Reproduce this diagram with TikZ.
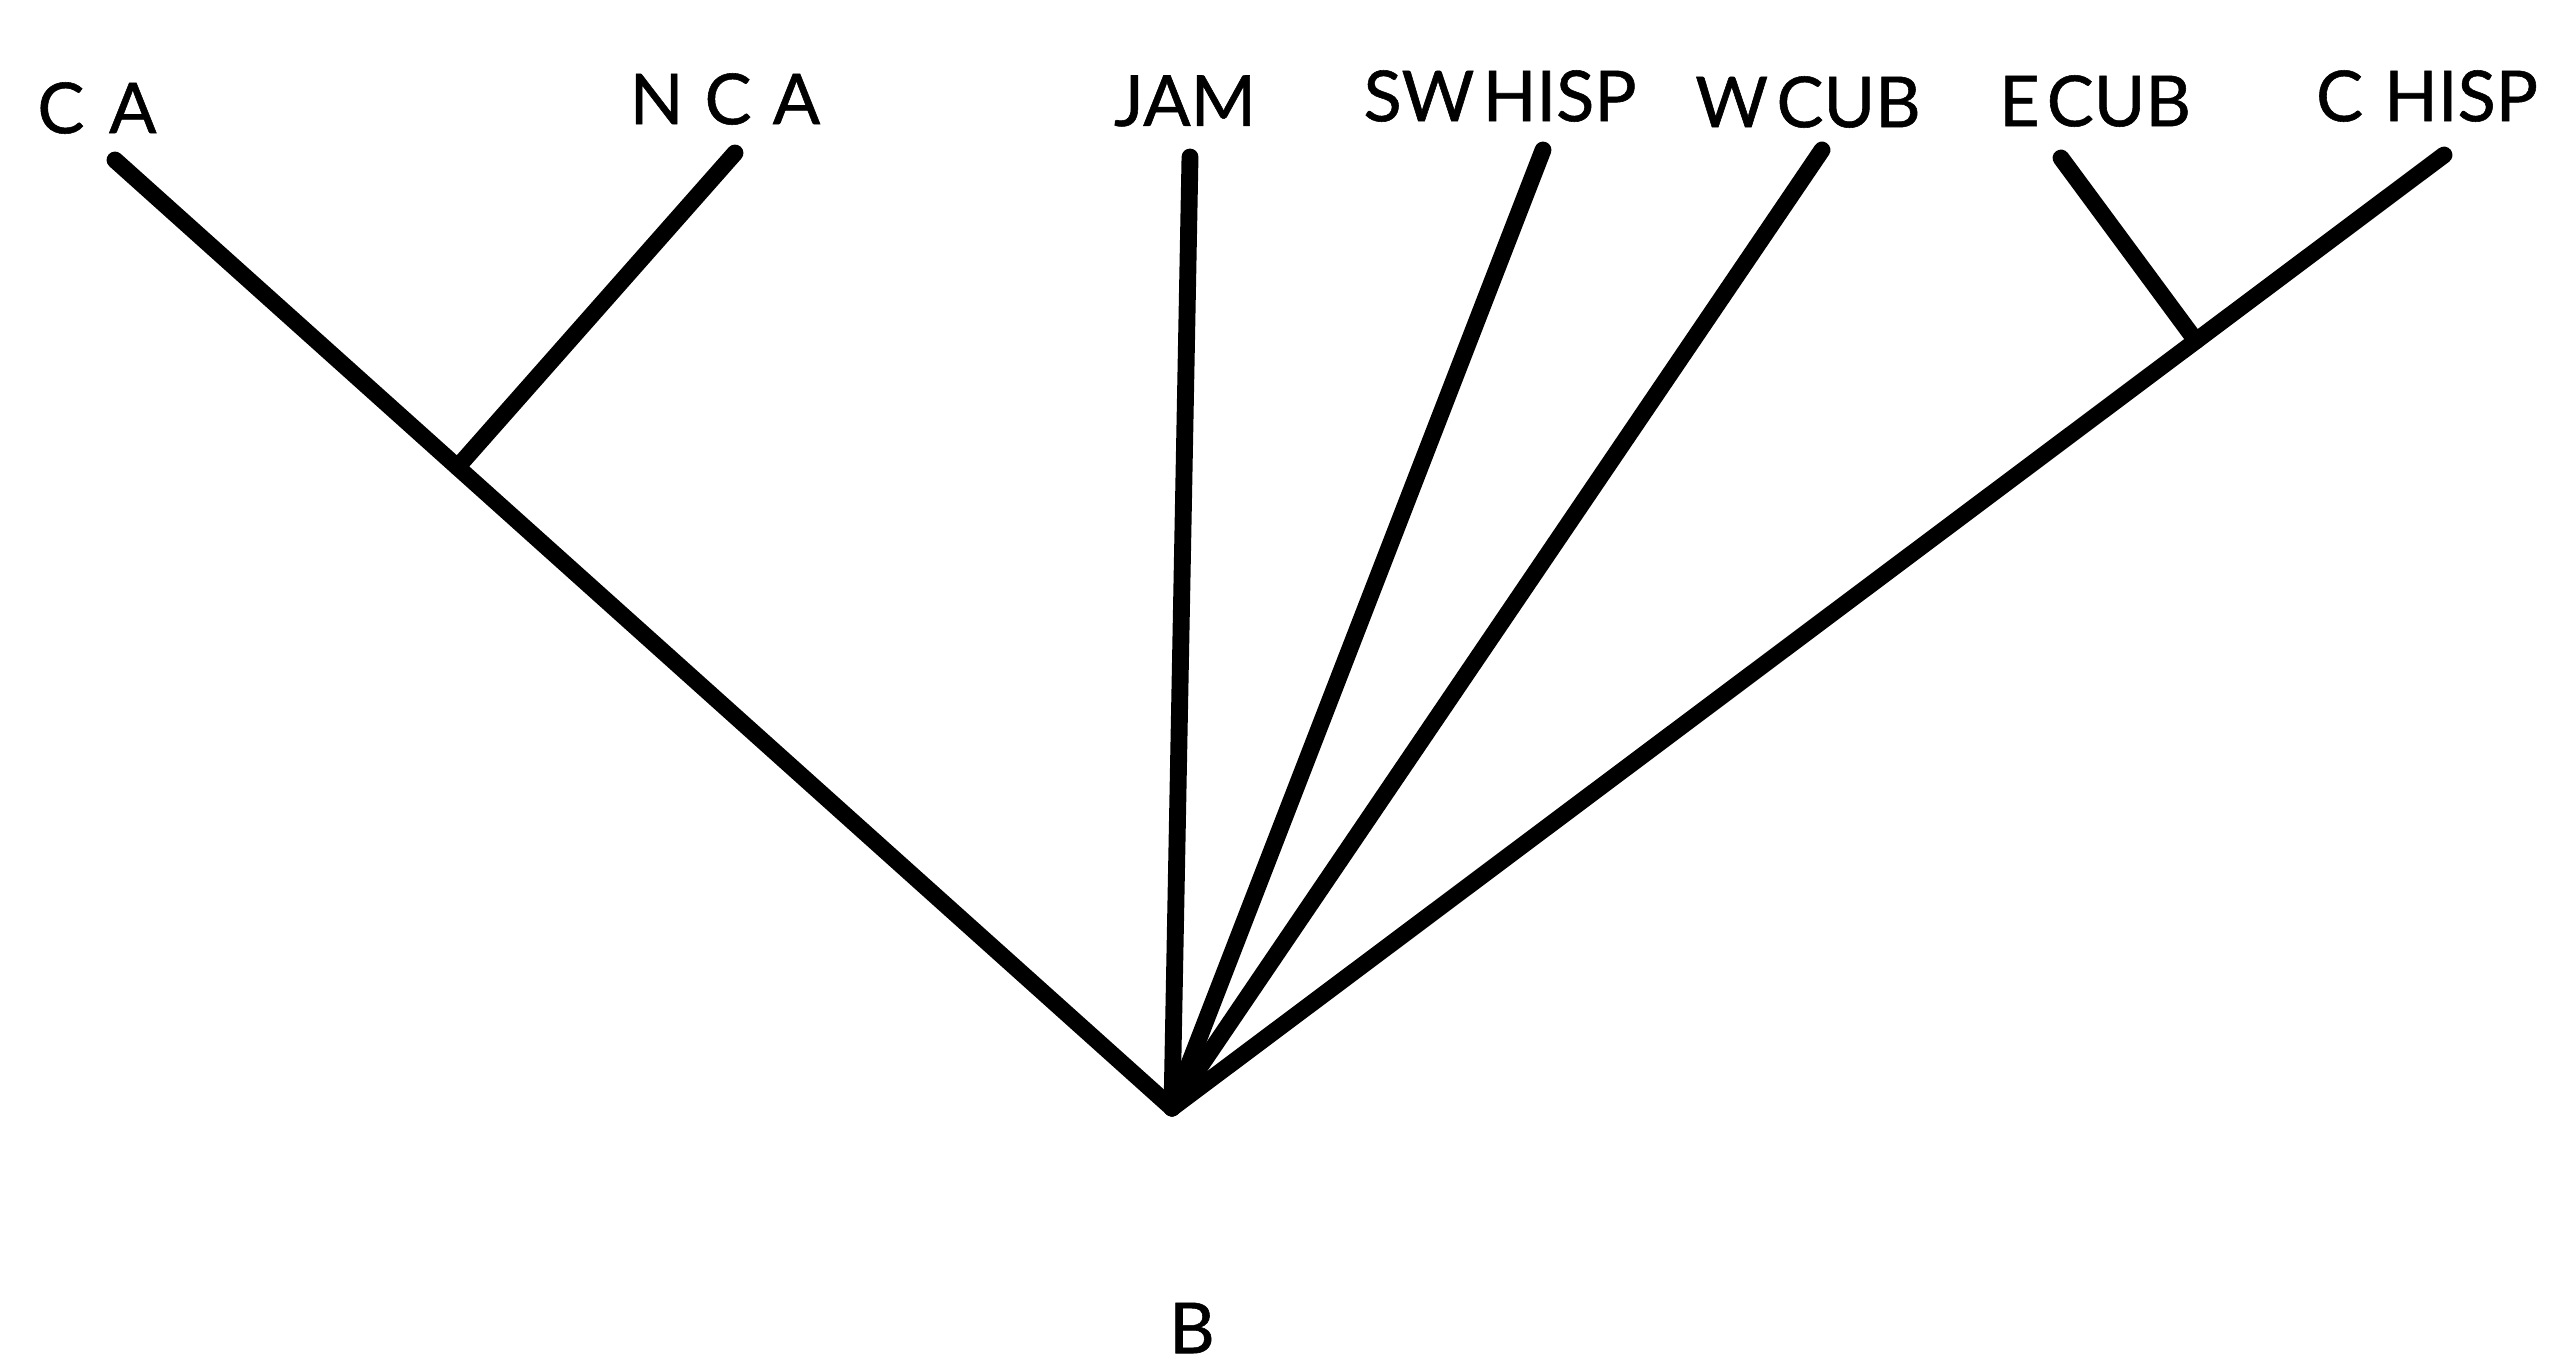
\documentclass[tikz,border=0pt]{standalone}
\usepackage{fontspec}
\setmainfont{Lato}[FakeBold=0.8]
\usetikzlibrary{calc}
\begin{document}
\begin{tikzpicture}[x=0.01cm,y=-0.01cm,
  branch/.style={line width=4.8pt,line cap=round,line join=round,black},
  taxon/.style={font=\fontsize{20}{22}\selectfont,inner sep=0pt,anchor=center}]
\useasboundingbox (0,0) rectangle (2551,1363);

% root of the tree
\coordinate (root) at (1172,1108);

% tips of the branches
\coordinate (tCA)    at (115,160);
\coordinate (tNCA)   at (735,153);
\coordinate (tJAM)   at (1190,157);
\coordinate (tSWH)   at (1543,150);
\coordinate (tWCUB)  at (1822,150);
\coordinate (tECUB)  at (2061,158);
\coordinate (tCHISP) at (2444,155);

% internal branching points
\coordinate (jNCA)  at ($(tCA)!0.324!(root)$);
\coordinate (jECUB) at ($(root)!0.805!(tCHISP)$);

% branches
\draw[branch] (root) -- (tCA);
\draw[branch] (jNCA) -- (tNCA);
\draw[branch] (root) -- (tJAM);
\draw[branch] (root) -- (tSWH);
\draw[branch] (root) -- (tWCUB);
\draw[branch] (root) -- (tCHISP);
\draw[branch] (jECUB) -- (tECUB);

% taxon labels
\node[taxon] (lCA)    at (97,108)   {C\hspace{0.35em}A};
\node[taxon] (lNCA)   at (725,99)   {N\hspace{0.3em}C\hspace{0.3em}A};
\node[taxon] (lJAM)   at (1185,101) {JAM};
\node[taxon] (lSWH)   at (1500,96)  {SW\hspace{0.12em}HISP};
\node[taxon] (lWCUB)  at (1808,102) {W\hspace{0.12em}CUB};
\node[taxon] (lECUB)  at (2095,101) {E\hspace{0.1em}CUB};
\node[taxon] (lCHISP) at (2427,96)  {C\hspace{0.3em}HISP};
\node[taxon] (lB)     at (1192,1328) {B};
\end{tikzpicture}
\end{document}
